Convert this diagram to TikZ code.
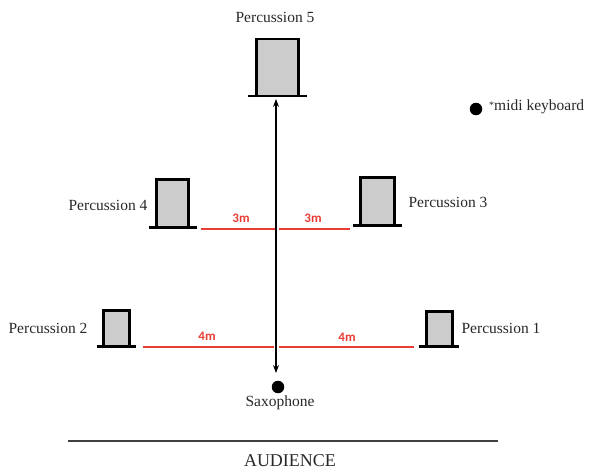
\documentclass[tikz,border=0pt]{standalone}
\usepackage{fontspec}
\setmainfont{Liberation Serif}
\newfontfamily\labfont{Carlito}
\usetikzlibrary{arrows.meta}
\definecolor{boxgray}{RGB}{204,204,204}
\definecolor{distred}{RGB}{232,62,52}
\definecolor{txt}{RGB}{40,40,40}
\tikzset{
  perc/.style={draw=black, line width=2.6pt, fill=boxgray, inner sep=0pt, outer sep=0pt, anchor=south},
  baseline/.style={line width=2.8pt},
  lbl/.style={font=\fontsize{15.5}{17}\selectfont, text=txt, inner sep=0pt},
  dist/.style={draw=distred, line width=1.7pt},
  distlbl/.style={font=\labfont\bfseries\fontsize{13}{15}\selectfont, text=distred, inner sep=0pt},
  dot/.style={circle, fill=black, minimum size=12.5pt, inner sep=0pt},
}
\begin{document}
\begin{tikzpicture}[x=1pt,y=-1pt]
\useasboundingbox (0,0) rectangle (590,471);
% percussion boxes
\node[perc, minimum width=42.5pt, minimum height=57pt] (p5) at (277.5,96) {};
\node[perc, minimum width=32.5pt, minimum height=48pt] (p4) at (172.5,227.5) {};
\node[perc, minimum width=34.5pt, minimum height=48pt] (p3) at (377.5,225.5) {};
\node[perc, minimum width=26.5pt, minimum height=36pt] (p2) at (116.5,346.5) {};
\node[perc, minimum width=26.5pt, minimum height=35pt] (p1) at (439.5,346.5) {};
% bases
\draw[baseline] ([xshift=-8pt]p5.south west) -- ([xshift=8pt]p5.south east);
\draw[baseline] ([xshift=-7pt]p4.south west) -- ([xshift=8pt]p4.south east);
\draw[baseline] ([xshift=-7pt]p3.south west) -- ([xshift=7pt]p3.south east);
\draw[baseline] ([xshift=-6pt]p2.south west) -- ([xshift=6pt]p2.south east);
\draw[baseline] ([xshift=-7pt]p1.south west) -- ([xshift=6pt]p1.south east);
% labels
\node[lbl] (l5) at (275,17) {Percussion 5};
\node[lbl] (l4) at (108,205) {Percussion 4};
\node[lbl] (l3) at (448,202) {Percussion 3};
\node[lbl] (l2) at (48,328) {Percussion 2};
\node[lbl] (l1) at (501,328) {Percussion 1};
% saxophone and midi
\node[dot] (sax) at (278,387) {};
\node[lbl, anchor=north] (saxl) at (280,396) {Saxophone};
\node[dot] (midi) at (476,109) {};
\node[lbl, anchor=west] (midil) at (489,107) {\raisebox{2.5pt}{\fontsize{10}{10}\selectfont*}midi keyboard};
% axis
\coordinate (top) at (276,99);
\coordinate (bot) at (276,373);
\draw[line width=1.1pt, {Stealth[length=8pt,width=6pt]}-{Stealth[length=8pt,width=6pt]}] (top) -- (bot);
% distances
\coordinate (a3l) at (201,229);
\coordinate (a3m) at (275,229);
\coordinate (a3n) at (279,229);
\coordinate (a3r) at (350,229);
\draw[dist] (a3l) -- (a3m);
\draw[dist] (a3n) -- (a3r);
\node[distlbl] (d3a) at (241,218) {3m};
\node[distlbl] (d3b) at (313,218) {3m};
\coordinate (a4l) at (143,347);
\coordinate (a4m) at (274,347);
\coordinate (a4n) at (279,347);
\coordinate (a4r) at (414,347);
\draw[dist] (a4l) -- (a4m);
\draw[dist] (a4n) -- (a4r);
\node[distlbl] (d4a) at (207,336) {4m};
\node[distlbl] (d4b) at (347,337) {4m};
% audience
\coordinate (au1) at (68,441);
\coordinate (au2) at (498,441);
\draw[line width=1.2pt, draw=black!75] (au1) -- (au2);
\node[lbl, font=\fontsize{18}{20}\selectfont] (aud) at (290,461) {AUDIENCE};
\end{tikzpicture}
\end{document}
